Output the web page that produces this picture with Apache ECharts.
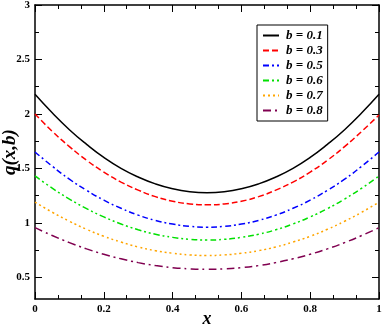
<!DOCTYPE html>
<html>
<head>
<meta charset="utf-8">
<script src="https://cdn.jsdelivr.net/npm/echarts@6/dist/echarts.min.js"></script>
<style>
html,body{margin:0;padding:0;background:#fff;}
#chart{width:382px;height:327px;}
</style>
</head>
<body>
<div id="chart"></div>
<script>
// x positions
var xValues = [0, 0.05, 0.1, 0.15, 0.2, 0.25, 0.3, 0.35, 0.4, 0.45, 0.5,
  0.55, 0.6, 0.65, 0.7, 0.75, 0.8, 0.85, 0.9, 0.95, 1];
// q(x,b)
var q01 = [2.18, 2.01, 1.855, 1.72, 1.60, 1.50, 1.42, 1.357, 1.312, 1.285, 1.276,
  1.285, 1.312, 1.357, 1.42, 1.50, 1.60, 1.72, 1.855, 2.01, 2.18];
var q03 = [2.00, 1.84, 1.70, 1.574, 1.466, 1.374, 1.30, 1.24, 1.198, 1.173, 1.165,
  1.173, 1.198, 1.24, 1.30, 1.374, 1.466, 1.574, 1.70, 1.84, 1.99];
var q05 = [1.65, 1.52, 1.40, 1.298, 1.208, 1.133, 1.07, 1.022, 0.988, 0.967, 0.96,
  0.967, 0.988, 1.022, 1.07, 1.133, 1.208, 1.298, 1.40, 1.52, 1.65];
var q06 = [1.43, 1.318, 1.218, 1.13, 1.054, 0.989, 0.936, 0.895, 0.866, 0.848, 0.842,
  0.848, 0.866, 0.895, 0.936, 0.989, 1.054, 1.13, 1.218, 1.318, 1.43];
var q07 = [1.19, 1.097, 1.014, 0.94, 0.876, 0.823, 0.778, 0.744, 0.72, 0.705, 0.70,
  0.705, 0.72, 0.744, 0.778, 0.823, 0.876, 0.94, 1.014, 1.097, 1.19];
var q08 = [0.955, 0.883, 0.818, 0.76, 0.711, 0.669, 0.634, 0.607, 0.588, 0.577, 0.573,
  0.577, 0.588, 0.607, 0.634, 0.669, 0.711, 0.76, 0.818, 0.883, 0.955];
var seriesNames = ['b = 0.1', 'b = 0.3', 'b = 0.5', 'b = 0.6', 'b = 0.7', 'b = 0.8'];
// tick labels
var xTicks = [0, 0.2, 0.4, 0.6, 0.8, 1];
var yTicks = [0.5, 1, 1.5, 2, 2.5, 3];
var yMinorTicks = [0.75, 1.25, 1.75, 2.25, 2.75];

var serif = 'Liberation Serif';
var allData = [q01, q03, q05, q06, q07, q08];
var colors = ['#000000', '#ff0000', '#0000ff', '#00e000', '#ffa500', '#800050'];
var dashes = ['solid', [6, 3], [6, 3, 2, 3], [6, 3, 2, 3, 2, 3], [2, 3], [8, 4, 2, 4]];

function pairs(arr) {
  return arr.map(function (v, i) { return [xValues[i], v]; });
}

var myChart = echarts.init(document.getElementById('chart'));

// y axis: major + minor (two axes per side because min is not a tick)
function yAxisFor(pos, minor, showLabel) {
  return {
    type: 'value',
    position: pos,
    min: 0.3,
    max: 3,
    name: (pos === 'left' && !minor) ? 'q(x,b)' : '',
    nameLocation: 'middle',
    nameGap: 15,
    nameMoveOverlap: false,
    nameTextStyle: { fontFamily: serif, fontWeight: 'bold', fontStyle: 'italic', fontSize: 19, color: '#000' },
    axisLine: { show: !minor, lineStyle: { color: '#000', width: 1.5 } },
    axisTick: {
      show: true, inside: true, length: minor ? 4 : 7,
      customValues: minor ? yMinorTicks : yTicks,
      lineStyle: { color: '#000', width: 1 }
    },
    axisLabel: {
      show: showLabel, customValues: yTicks, margin: 5,
      fontFamily: serif, fontWeight: 'bold', fontSize: 11, color: '#000'
    },
    splitLine: { show: false }
  };
}

function xAxisFor(pos, showLabel) {
  return {
    type: 'value',
    position: pos,
    min: 0,
    max: 1,
    interval: 0.2,
    name: pos === 'bottom' ? 'x' : '',
    nameLocation: 'middle',
    nameGap: 11,
    nameMoveOverlap: false,
    nameTextStyle: { fontFamily: serif, fontWeight: 'bold', fontStyle: 'italic', fontSize: 18, color: '#000' },
    axisLine: { show: true, lineStyle: { color: '#000', width: 1.5 } },
    axisTick: { show: true, inside: true, length: 7, lineStyle: { color: '#000', width: 1 } },
    minorTick: { show: true, splitNumber: 3, length: 4, lineStyle: { color: '#000', width: 1 } },
    axisLabel: {
      show: showLabel, margin: 5,
      fontFamily: serif, fontWeight: 'bold', fontSize: 11, color: '#000',
      formatter: function (v) { return xTicks.indexOf(v) >= 0 ? String(v) : ''; }
    },
    splitLine: { show: false },
    minorSplitLine: { show: false }
  };
}

var option = {
  animation: false,
  backgroundColor: '#fff',
  grid: { left: 35, right: 3, top: 5, bottom: 28, outerBoundsMode: 'none', containLabel: false },
  legend: {
    orient: 'vertical',
    left: 257,
    top: 25,
    padding: [4, 5, 4, 5],
    itemGap: 2,
    itemWidth: 16,
    itemHeight: 13,
    borderColor: '#000',
    borderWidth: 1,
    backgroundColor: '#fff',
    itemStyle: { opacity: 0 },
    data: seriesNames,
    textStyle: { fontFamily: serif, fontWeight: 'bold', fontStyle: 'italic', fontSize: 13, lineHeight: 13, color: '#000', padding: [0, 0, 0, 2] }
  },
  xAxis: [xAxisFor('bottom', true), xAxisFor('top', false)],
  yAxis: [
    yAxisFor('left', false, true),
    yAxisFor('left', true, false),
    yAxisFor('right', false, false),
    yAxisFor('right', true, false)
  ],
  series: allData.map(function (arr, i) {
    return {
      name: seriesNames[i],
      type: 'line',
      smooth: true,
      showSymbol: false,
      symbol: 'none',
      color: colors[i],
      lineStyle: { color: colors[i], width: 1.5, type: dashes[i] },
      data: pairs(arr)
    };
  })
};
myChart.setOption(option);
</script>
</body>
</html>
